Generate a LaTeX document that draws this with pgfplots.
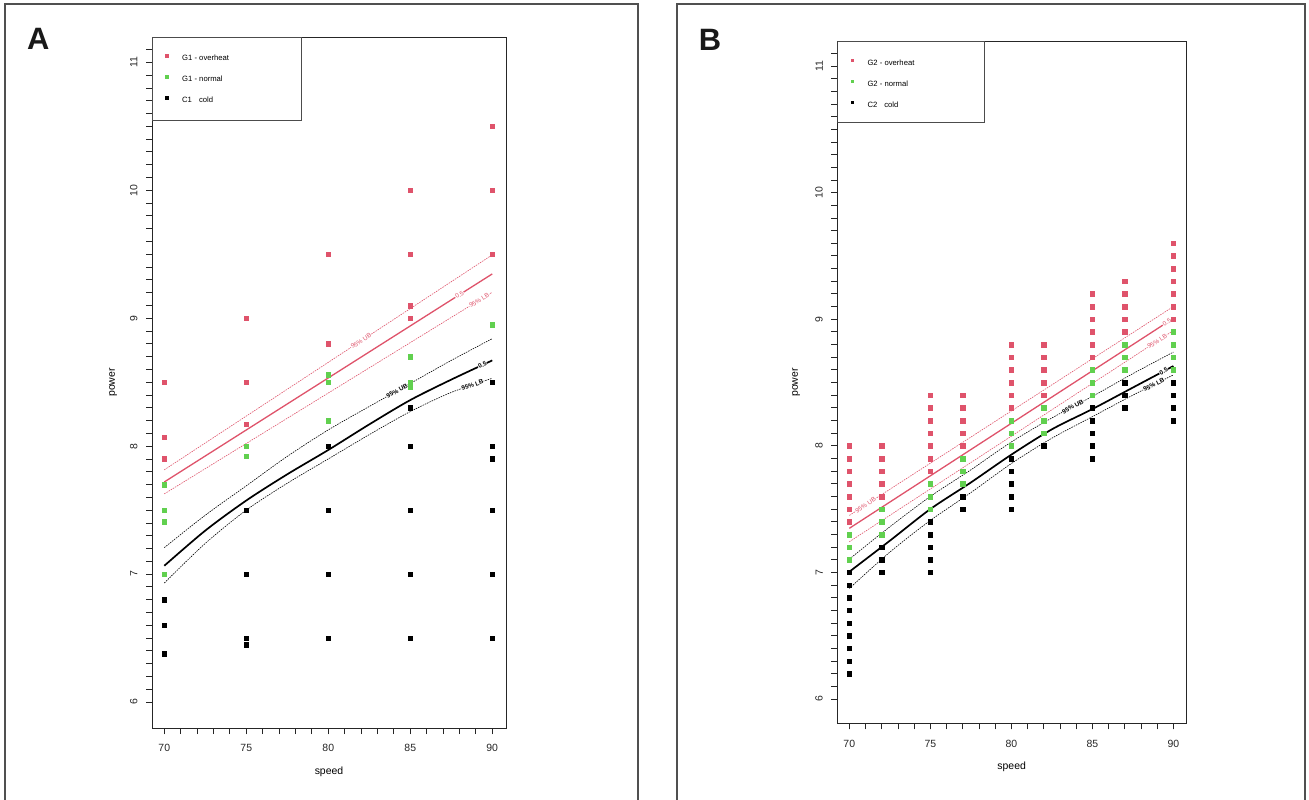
\documentclass[border=0pt]{standalone}
\usepackage{pgfplots}
\pgfplotsset{compat=1.18}
\usepackage{fontspec}
\setmainfont{Liberation Sans}
\definecolor{rr}{HTML}{DF536B}
\definecolor{gg}{HTML}{61D04F}
\definecolor{framec}{HTML}{505050}
\newcommand\lab{\fontsize{6.3}{7}\selectfont}
\tikzset{
  rlab/.style={sloped, fill=white, inner sep=0.4bp, font=\lab, text=rr},
  blab/.style={sloped, fill=white, inner sep=0.4bp, font=\lab\bfseries, text=black},
}
\pgfplotsset{
  rplot/.style={
    scale only axis,
    axis line style={black!85, line width=0.9bp},
    tick pos=left,
    tick align=outside,
    major tick length=6bp, minor tick length=6bp,
    every tick/.style={black!85, line width=0.8bp},
    every minor tick/.style={black!85, line width=0.8bp},
    xtick={70,75,80,85,90},
    minor xtick={70,71,...,90},
    ytick={6,7,8,9,10,11},
    minor ytick={6,6.1,...,11.05},
    /pgf/number format/assume math mode=true,
    tick label style={font=\fontsize{10.5}{12}\selectfont, text=black!85},
    yticklabel style={rotate=90, anchor=south},
    yticklabel shift=5bp,
    xticklabel shift=7bp,
    xlabel={speed}, ylabel={power},
    every axis x label/.style={at={(axis description cs:0.5,0)}, anchor=center, yshift=-43.4bp, font=\fontsize{10.5}{12}\selectfont},
    legend cell align=left,
    legend style={at={(rel axis cs:0,1)}, anchor=north west, draw=none, fill=none,
      inner xsep=0pt, inner ysep=17bp, row sep=12.3bp, column sep=8bp,
      font=\fontsize{7.7}{8}\selectfont,
      nodes={inner sep=0pt, text height=5.6bp, text depth=2.4bp}},
    legend image code/.code={\path[draw=none,fill=none] (0bp,0bp) -- (22bp,0bp);
      \fill[##1, draw=none] (13.2bp,1.1bp) rectangle (16.8bp,4.7bp);},
  },
  redpt/.style={only marks, mark=square*, mark size=2.3bp, color=rr},
  grnpt/.style={only marks, mark=square*, mark size=2.3bp, color=gg},
  blkpt/.style={only marks, mark=square*, mark size=2.3bp, color=black},
  rsol/.style={rr, line width=1.3bp},
  rdash/.style={rr, line width=0.6bp, dash pattern=on 1.5bp off 1bp},
  bsol/.style={black, line width=1.7bp},
  bdash/.style={black, line width=0.6bp, dash pattern=on 1.5bp off 1bp},
}
\begin{document}
\begin{tikzpicture}[x=1bp,y=1bp]
\useasboundingbox (0,0) rectangle (1309,799);
\fill[white] (0,0) rectangle (1309,799);
% panel frames
\draw[framec, line width=1.5bp] (5,-3) -- (5,795) -- (638,795) -- (638,-3);
\draw[framec, line width=1.5bp] (677,-3) -- (677,795) -- (1305,795) -- (1305,-3);
\node[font=\bfseries\fontsize{31}{31}\selectfont, text=black!90] at (38.3,760) {A};
\node[font=\bfseries\fontsize{31}{31}\selectfont, text=black!90] at (710,759.5) {B};

%================ Panel A
\begin{axis}[rplot, at={(152bp,71bp)}, anchor=south west, width=354bp, height=691bp,
  xmin=69.25, xmax=90.84, ymin=5.797, ymax=11.198,
  every axis y label/.style={at={(axis description cs:-0.110,0.5)}, rotate=90, anchor=center, font=\fontsize{10.5}{12}\selectfont}]
\addplot[redpt] coordinates {(70,8.5)(70,8.07)(70,7.9)(75,9.0)(75,8.5)(75,8.17)(80,9.5)(80,8.8)
  (85,10.0)(85,9.5)(85,9.1)(85,9.0)(90,10.5)(90,10.0)(90,9.5)};
\addlegendentry{G1 - overheat}
\addplot[grnpt] coordinates {(70,7.7)(70,7.5)(70,7.41)(70,7.0)(75,8.0)(75,7.92)(80,8.56)(80,8.5)(80,8.2)
  (85,8.7)(85,8.5)(85,8.46)(90,8.95)};
\addlegendentry{G1 - normal}
\addplot[blkpt] coordinates {(70,6.8)(70,6.6)(70,6.38)(75,7.5)(75,7.0)(75,6.5)(75,6.45)
  (80,8.0)(80,7.5)(80,7.0)(80,6.5)(85,8.3)(85,8.0)(85,7.5)(85,7.0)(85,6.5)
  (90,8.5)(90,8.0)(90,7.9)(90,7.5)(90,7.0)(90,6.5)};
\addlegendentry{C1\hspace{7bp}cold}
% red lines
\addplot[rdash, forget plot] coordinates {(70,7.815)(90,9.495)} node[rlab, pos=0.6] {95\% UB};
\addplot[rsol, forget plot] coordinates {(70,7.72)(90,9.346)} node[rlab, pos=0.9] {0.5};
\addplot[rdash, forget plot] coordinates {(70,7.627)(90,9.203)} node[rlab, pos=0.96] {95\% LB};
% black curves
\addplot[bdash, smooth, forget plot] coordinates {(70,7.207)(72.5,7.46)(75,7.69)(77.5,7.92)(80,8.127)(82.5,8.31)(85,8.49)(87.5,8.67)(90,8.84)}
  node[blab, pos=0.71] {95\% UB};
\addplot[bsol, smooth, forget plot] coordinates {(70,7.065)(72.5,7.34)(75,7.575)(77.5,7.78)(80,7.97)(82.5,8.17)(85,8.36)(87.5,8.52)(90,8.67)}
  node[blab, pos=0.97] {0.5};
\addplot[bdash, smooth, forget plot] coordinates {(70,6.93)(72.5,7.24)(75,7.50)(77.5,7.71)(80,7.90)(82.5,8.09)(85,8.27)(87.5,8.42)(90,8.53)}
  node[blab, pos=0.94] {95\% LB};
\draw[black!70, line width=0.8bp] (rel axis cs:0,1) rectangle ++(149bp,-83bp);
\end{axis}

%================ Panel B
\begin{axis}[rplot, at={(837.3bp,75.7bp)}, anchor=south west, width=348.7bp, height=681.6bp,
  xmin=69.26, xmax=90.78, ymin=5.808, ymax=11.192,
  every axis y label/.style={at={(axis description cs:-0.118,0.5)}, rotate=90, anchor=center, font=\fontsize{10.5}{12}\selectfont}]
\addplot[redpt] coordinates {
  (70,8.0)(70,7.9)(70,7.8)(70,7.7)(70,7.6)(70,7.5)(70,7.4)
  (72,8.0)(72,7.9)(72,7.8)(72,7.7)(72,7.6)
  (75,8.4)(75,8.3)(75,8.2)(75,8.1)(75,8.0)(75,7.9)(75,7.8)
  (77,8.4)(77,8.3)(77,8.2)(77,8.1)(77,8.0)
  (80,8.8)(80,8.7)(80,8.6)(80,8.5)(80,8.4)(80,8.3)
  (82,8.8)(82,8.7)(82,8.6)(82,8.5)(82,8.4)
  (85,9.2)(85,9.1)(85,9.0)(85,8.9)(85,8.8)(85,8.7)
  (87,9.3)(87,9.2)(87,9.1)(87,9.0)(87,8.9)
  (90,9.6)(90,9.5)(90,9.4)(90,9.3)(90,9.2)(90,9.1)(90,9.0)};
\addlegendentry{G2 - overheat}
\addplot[grnpt] coordinates {
  (70,7.3)(70,7.2)(70,7.1)
  (72,7.5)(72,7.4)(72,7.3)
  (75,7.7)(75,7.6)(75,7.5)
  (77,7.9)(77,7.8)(77,7.7)
  (80,8.2)(80,8.1)(80,8.0)
  (82,8.3)(82,8.2)(82,8.1)
  (85,8.6)(85,8.5)(85,8.4)
  (87,8.8)(87,8.7)(87,8.6)
  (90,8.9)(90,8.8)(90,8.7)(90,8.6)};
\addlegendentry{G2 - normal}
\addplot[blkpt] coordinates {
  (70,7.0)(70,6.9)(70,6.8)(70,6.7)(70,6.6)(70,6.5)(70,6.4)(70,6.3)(70,6.2)
  (72,7.2)(72,7.1)(72,7.0)
  (75,7.4)(75,7.3)(75,7.2)(75,7.1)(75,7.0)
  (77,7.6)(77,7.5)
  (80,7.9)(80,7.8)(80,7.7)(80,7.6)(80,7.5)
  (82,8.0)
  (85,8.3)(85,8.2)(85,8.1)(85,8.0)(85,7.9)
  (87,8.5)(87,8.4)(87,8.3)
  (90,8.5)(90,8.4)(90,8.3)(90,8.2)};
\addlegendentry{C2\hspace{7bp}cold}
% red lines
\addplot[rdash, forget plot] coordinates {(70,7.45)(90,9.10)} node[rlab, pos=0.05] {95\% UB};
\addplot[rsol, forget plot] coordinates {(70,7.348)(90,9.007)} node[rlab, pos=0.98] {0.5};
\addplot[rdash, forget plot] coordinates {(70,7.242)(90,8.91)} node[rlab, pos=0.95] {95\% LB};
% black curves
\addplot[bdash, smooth, forget plot] coordinates {(70,7.105)(72.5,7.36)(75,7.60)(77.5,7.81)(80,8.03)(82.5,8.22)(85,8.39)(87.5,8.57)(90,8.74)}
  node[blab, pos=0.69] {95\% UB};
\addplot[bsol, smooth, forget plot] coordinates {(70,7.005)(72.5,7.25)(75,7.50)(77.5,7.71)(80,7.93)(82.5,8.13)(85,8.29)(87.5,8.46)(90,8.63)}
  node[blab, pos=0.97] {0.5};
\addplot[bdash, smooth, forget plot] coordinates {(70,6.873)(72.5,7.16)(75,7.41)(77.5,7.63)(80,7.86)(82.5,8.06)(85,8.23)(87.5,8.40)(90,8.56)}
  node[blab, pos=0.94] {95\% LB};
\draw[black!70, line width=0.8bp] (rel axis cs:0,1) rectangle ++(147bp,-81bp);
\end{axis}
\end{tikzpicture}
\end{document}
